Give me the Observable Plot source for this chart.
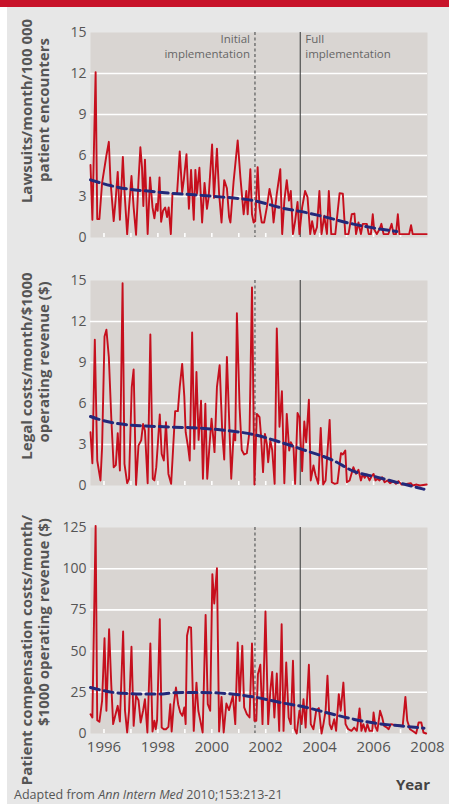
<!DOCTYPE html>
<html>
<head>
<meta charset="utf-8">
<script src="https://cdn.jsdelivr.net/npm/d3@7"></script>
<script src="https://cdn.jsdelivr.net/npm/@observablehq/plot@0.6"></script>
<style>
  html, body { margin: 0; padding: 0; background: #fff; }
  #chart { position: relative; width: 449px; height: 804px; overflow: hidden; font-family: "Open Sans", sans-serif; }
  #redbar { position: absolute; left: 0; top: 0; width: 449px; height: 7px; background: #c8132a; }
  #panel { position: absolute; left: 7px; top: 7px; width: 442px; height: 797px; background: #e7e7e7; }
  #chart svg.plotsvg { position: absolute; left: 0; }
  #caption { position: absolute; left: 14px; top: 786px; font-size: 12.5px; color: #555; white-space: nowrap; }
  #overlay { position: absolute; left: 0; top: 0; pointer-events: none; }
</style>
</head>
<body>
<div id="chart">
  <div id="redbar"></div>
  <div id="panel"></div>
  <div id="caption">Adapted from <i>Ann Intern Med</i> 2010;153:213-21</div>
</div>
<script>
// ---- Data ----
const lawsuitYears = [1995.50,1995.57,1995.69,1995.75,1995.83,1995.93,1996.09,1996.18,1996.24,1996.36,1996.43,1996.51,1996.59,1996.70,1996.76,1996.86,1996.93,1997.02,1997.10,1997.19,1997.28,1997.35,1997.41,1997.46,1997.52,1997.62,1997.71,1997.80,1997.87,1997.94,1997.99,1998.06,1998.12,1998.19,1998.27,1998.34,1998.40,1998.48,1998.54,1998.71,1998.81,1998.90,1998.96,1999.06,1999.15,1999.23,1999.33,1999.39,1999.45,1999.54,1999.64,1999.73,1999.82,1999.88,2000.01,2000.08,2000.19,2000.27,2000.36,2000.46,2000.56,2000.64,2000.69,2000.81,2000.96,2001.06,2001.18,2001.28,2001.33,2001.43,2001.49,2001.55,2001.61,2001.70,2001.77,2001.85,2001.94,2002.04,2002.14,2002.23,2002.29,2002.41,2002.54,2002.61,2002.69,2002.78,2002.86,2002.93,2003.01,2003.09,2003.18,2003.25,2003.35,2003.46,2003.55,2003.65,2003.72,2003.81,2003.90,2003.99,2004.07,2004.17,2004.27,2004.34,2004.43,2004.58,2004.74,2004.86,2004.95,2005.07,2005.19,2005.29,2005.35,2005.44,2005.53,2005.60,2005.75,2005.82,2005.90,2005.97,2006.02,2006.12,2006.22,2006.29,2006.37,2006.55,2006.67,2006.74,2006.83,2006.90,2006.96,2007.32,2007.39,2007.45,2007.97];
const lawsuitValues = [5.3,1.3,12.1,1.35,1.35,4.0,6.0,7.0,4.2,1.2,2.7,4.8,1.3,5.9,3.4,0.25,2.2,4.5,2.2,0.2,4.15,6.6,5.15,2.3,5.7,0.25,4.4,2.2,1.4,2.45,1.95,4.4,1.15,1.95,2.2,1.5,2.2,0.25,3.2,3.2,6.3,3.3,4.2,6.1,2.1,4.95,1.3,4.95,3.2,5.1,1.1,4.0,2.1,2.9,6.8,2.9,6.5,3.2,1.1,4.2,3.6,1.5,1.1,4.15,7.1,4.4,1.7,3.4,1.7,5.0,1.7,1.1,1.2,5.15,2.2,1.1,1.1,2.2,3.55,2.7,1.1,3.2,5.0,0.25,2.7,4.2,2.7,3.4,0.25,1.2,2.6,0.25,2.2,3.4,2.95,0.25,1.2,0.25,0.75,3.4,0.25,1.6,0.25,3.4,0.25,0.25,3.25,3.2,0.25,0.25,1.7,1.75,0.25,1.1,0.25,1.0,1.0,0.25,0.25,1.7,0.6,0.25,0.6,1.0,0.25,0.25,1.0,0.25,0.25,1.7,0.25,0.25,0.9,0.25,0.25];
const lawsuitTrendYears = [1995.50,1996.24,1996.86,1997.72,1998.46,1999.20,2000.06,2001.55,2002.78,2003.28,2004.02,2005.25,2006.86];
const lawsuitTrendValues = [4.22,3.80,3.55,3.38,3.24,3.14,3.01,2.70,2.08,1.91,1.59,0.98,0.44];

const legalYears = [1995.50,1995.57,1995.66,1995.75,1995.87,1995.93,1996.02,1996.09,1996.18,1996.27,1996.36,1996.44,1996.51,1996.59,1996.69,1996.76,1996.86,1996.93,1997.03,1997.10,1997.19,1997.28,1997.38,1997.45,1997.52,1997.62,1997.72,1997.81,1997.87,1997.94,1998.07,1998.14,1998.22,1998.30,1998.39,1998.49,1998.54,1998.64,1998.74,1998.81,1998.90,1998.98,1999.03,1999.12,1999.18,1999.27,1999.35,1999.43,1999.51,1999.60,1999.67,1999.76,1999.83,1999.92,1999.99,2000.10,2000.19,2000.29,2000.39,2000.46,2000.56,2000.72,2000.81,2000.87,2000.93,2001.03,2001.11,2001.20,2001.30,2001.40,2001.49,2001.58,2001.67,2001.77,2001.82,2001.90,2001.97,2002.04,2002.09,2002.17,2002.24,2002.33,2002.41,2002.51,2002.60,2002.69,2002.78,2002.87,2002.93,2003.03,2003.09,2003.18,2003.25,2003.35,2003.43,2003.50,2003.60,2003.67,2003.77,2003.85,2003.95,2004.04,2004.13,2004.22,2004.37,2004.45,2004.56,2004.66,2004.79,2004.86,2004.95,2005.01,2005.11,2005.25,2005.35,2005.44,2005.53,2005.60,2005.67,2005.75,2005.85,2005.92,2006.00,2006.07,2006.14,2006.22,2006.32,2006.41,2006.51,2006.61,2006.74,2006.83,2006.92,2007.04,2007.23,2007.38,2007.45,2007.60,2007.72,2007.97];
const legalValues = [3.9,1.63,10.66,1.83,0.37,2.8,10.9,11.4,9.4,5.0,1.34,1.49,3.83,1.1,14.8,1.59,0.17,0.49,7.2,8.5,0.05,2.93,3.3,4.5,4.0,0.17,11.05,0.49,0.37,1.34,5.2,2.3,1.83,4.63,0.85,0.12,1.83,5.44,5.44,7.2,8.9,6.5,3.9,2.8,1.83,11.2,2.68,8.3,3.34,6.2,0.49,5.98,0.49,3.1,4.88,2.44,7.2,8.8,3.78,1.9,9.4,0.49,3.78,3.3,12.6,5.73,2.6,2.27,2.37,4.02,14.5,0.07,5.24,5.0,3.78,0.98,3.78,3.05,1.7,3.3,2.6,0.12,11.5,4.3,6.9,0.17,5.24,2.56,3.17,2.8,0.12,5.3,5.0,1.05,4.68,3.17,6.27,0.37,1.46,0.73,0.12,4.22,0.07,0.37,4.8,0.24,0.12,0.17,2.37,2.27,2.56,0.24,0.37,1.34,0.85,1.15,0.37,0.85,0.56,0.8,0.37,0.66,0.85,0.37,0.49,0.37,0.61,0.24,0.37,0.17,0.32,0.12,0.32,0.07,0.12,0.17,0.0,0.07,0.0,0.07];
const legalTrendYears = [1995.50,1995.75,1996.24,1996.86,1997.72,1998.59,1999.33,2000.56,2001.55,2002.54,2003.40,2004.51,2005.25,2006.12,2006.98,2007.87];
const legalTrendValues = [5.05,4.88,4.63,4.44,4.34,4.27,4.22,4.02,3.73,3.17,2.61,1.83,1.05,0.61,0.17,-0.27];

const compYears = [1995.50,1995.57,1995.69,1995.75,1995.83,1995.93,1996.02,1996.09,1996.19,1996.27,1996.34,1996.43,1996.51,1996.59,1996.71,1996.78,1996.86,1996.93,1997.02,1997.10,1997.19,1997.28,1997.36,1997.45,1997.52,1997.61,1997.72,1997.80,1997.87,1997.92,1997.97,1998.07,1998.14,1998.22,1998.30,1998.39,1998.46,1998.51,1998.59,1998.67,1998.75,1998.83,1998.91,1998.98,1999.03,1999.08,1999.15,1999.23,1999.33,1999.43,1999.50,1999.57,1999.66,1999.77,1999.85,1999.94,2000.02,2000.09,2000.19,2000.27,2000.36,2000.44,2000.54,2000.64,2000.78,2000.87,2000.96,2001.03,2001.13,2001.20,2001.30,2001.40,2001.49,2001.58,2001.65,2001.71,2001.80,2001.88,2001.99,2002.09,2002.17,2002.24,2002.32,2002.41,2002.50,2002.59,2002.66,2002.76,2002.85,2002.93,2003.01,2003.08,2003.15,2003.25,2003.33,2003.40,2003.48,2003.60,2003.67,2003.77,2003.87,2003.97,2004.07,2004.14,2004.22,2004.29,2004.37,2004.44,2004.54,2004.61,2004.71,2004.78,2004.88,2004.96,2005.06,2005.18,2005.28,2005.38,2005.48,2005.55,2005.62,2005.70,2005.77,2005.85,2005.95,2006.00,2006.07,2006.14,2006.24,2006.32,2006.39,2006.49,2006.56,2006.64,2006.74,2006.86,2007.08,2007.18,2007.25,2007.35,2007.48,2007.58,2007.67,2007.77,2007.85,2007.95];
const compValues = [11.7,9.7,126,8.1,7.1,19.8,57.8,13.8,63.3,29.9,5.7,11.7,16.8,7.3,61.9,13.8,0.6,13.8,52.6,4.65,22.9,20.2,6.7,13.8,20.8,0.6,54.6,1.2,7.7,2.6,8.1,69.4,3.6,2.6,2.6,4.0,17.8,1.2,17.8,27.9,17.8,12.7,10.7,15.8,5.7,59.3,64.7,64.3,1.6,30.9,13.8,8.1,0.6,72.0,17.8,13.8,96.7,78.9,100.3,1.2,22.2,0.6,18.2,14.2,22.9,5.7,55.2,19.8,53.2,15.8,11.7,9.7,54.6,7.7,7.7,36.0,41.7,5.7,74.0,5.7,25.9,37.4,9.7,36.4,1.6,66.3,1.6,43.1,9.7,5.7,44.1,2.6,0.0,13.8,5.7,20.8,3.6,41.7,5.7,2.6,13.8,15.4,0.0,5.7,13.8,35.0,5.7,2.6,8.7,1.6,23.9,13.8,30.9,5.7,2.6,1.6,3.6,1.6,15.2,1.6,5.7,1.2,5.7,1.6,1.6,12.7,4.0,1.6,13.8,9.7,4.65,3.6,2.6,5.7,5.3,5.1,4.65,22.2,7.7,2.6,1.2,0.0,6.7,6.7,0.6,0.0];
const compTrendYears = [1995.50,1995.75,1996.36,1996.86,1997.36,1997.97,1998.59,1999.08,1999.57,2000.32,2001.55,2002.54,2003.40,2004.39,2005.25,2006.12,2006.98,2007.87];
const compTrendValues = [27.9,26.9,24.9,24.3,23.9,23.9,24.7,24.9,24.9,24.5,22.2,18.8,16.2,12.1,8.7,6.1,4.65,3.2];

const yearTicks = [1996,1997,1998,1999,2000,2001,2002,2003,2004,2005,2006,2007];
const yearLabels = [1996,1998,2000,2002,2004,2006,2008];
const xDomain = [1995.5, 2008];
const initialImplementation = 2001.6;
const fullImplementation = 2003.28;

const lawsuitTicks = [0,3,6,9,12,15];
const legalTicks = [0,3,6,9,12,15];
const compTicks = [0,25,50,75,100,125];

const yTitles = [
  ["Lawsuits/month/100 000", "patient encounters"],
  ["Legal costs/month/$1000", "operating revenue ($)"],
  ["Patient compensation costs/month/", "$1000 operating revenue ($)"]
];
const noteInitial = ["Initial", "implementation"];
const noteFull = ["Full", "implementation"];
const xTitle = "Year";

// ---- Styles ----
const RED = "#c60f1d";
const NAVY = "#23297a";
const PLOTBG = "#d9d5d2";
const TEXT = "#555";

function panel({years, values, trendYears, trendValues, ticks, top, height, marginTop, marginBottom, labels, notes}) {
  const data = years.map((x, i) => ({x, y: values[i]}));
  const trend = trendYears.map((x, i) => ({x, y: trendValues[i]}));
  const marks = [
    Plot.frame({fill: PLOTBG, stroke: null}),
    Plot.gridY(ticks.slice(1, -1), {stroke: "white", strokeOpacity: 1, strokeWidth: 1.6}),
    Plot.axisX(yearTicks, {tickSize: -4, stroke: "white", strokeWidth: 1.6, fill: "none", tickFormat: () => ""}),
    Plot.ruleX([initialImplementation], {stroke: "#7a7a7a", strokeWidth: 1.6, strokeDasharray: "3,2.5"}),
    Plot.ruleX([fullImplementation], {stroke: "#444", strokeWidth: 1.1}),
    Plot.line(data, {x: "x", y: "y", stroke: RED, strokeWidth: 1.9, strokeLinejoin: "round"}),
    Plot.line(trend, {x: "x", y: "y", stroke: NAVY, strokeWidth: 3, strokeDasharray: "9,5", curve: "monotone-x"}),
    Plot.axisY(ticks, {tickSize: 0, tickPadding: 4, label: null, fontSize: 14, fill: TEXT})
  ];
  if (labels) {
    marks.push(Plot.axisX(yearLabels, {tickSize: 0, tickPadding: 8, tickFormat: d => String(d), fontSize: 15, fill: TEXT, label: null}));
  }
  if (notes) {
    // one text per line, spaced so the line boxes do not overlap
    noteInitial.forEach((t, j) => {
      marks.push(Plot.text([initialImplementation], {x: d => d, frameAnchor: "top", text: () => t, textAnchor: "end", lineAnchor: "top", dx: -5, dy: 2 + j * 15.8, fontSize: 11.5, fill: "#666"}));
    });
    noteFull.forEach((t, j) => {
      marks.push(Plot.text([fullImplementation], {x: d => d, frameAnchor: "top", text: () => t, textAnchor: "start", lineAnchor: "top", dx: 5, dy: 2 + j * 15.8, fontSize: 11.5, fill: "#666"}));
    });
  }
  const svg = Plot.plot({
    width: 449,
    height,
    marginLeft: 90,
    marginRight: 22,
    marginTop,
    marginBottom,
    style: {background: "transparent", fontFamily: "'Open Sans', sans-serif", fontSize: "14px", color: TEXT, overflow: "visible"},
    x: {domain: xDomain},
    y: {domain: [ticks[0], ticks[ticks.length - 1]]},
    marks
  });
  svg.classList.add("plotsvg");
  svg.style.top = top + "px";
  document.getElementById("chart").appendChild(svg);
}

panel({years: lawsuitYears, values: lawsuitValues, trendYears: lawsuitTrendYears, trendValues: lawsuitTrendValues, ticks: lawsuitTicks, top: 0, height: 250, marginTop: 32, marginBottom: 13, labels: false, notes: true});
panel({years: legalYears, values: legalValues, trendYears: legalTrendYears, trendValues: legalTrendValues, ticks: legalTicks, top: 250, height: 250, marginTop: 30, marginBottom: 15, labels: false, notes: false});
panel({years: compYears, values: compValues, trendYears: compTrendYears, trendValues: compTrendValues, ticks: compTicks, top: 500, height: 270, marginTop: 27, marginBottom: 37, labels: true, notes: false});

// ---- Titles overlay ----
const overlay = d3.select("#chart").append("svg")
  .attr("id", "overlay").attr("width", 449).attr("height", 804);
const titlePos = [
  [[27, 111], [44, 110]],
  [[27, 366], [44, 362]],
  [[27, 650], [44, 622]]
];
yTitles.forEach((lines, i) => {
  lines.forEach((t, j) => {
    const [cx, cy] = titlePos[i][j];
    overlay.append("text")
      .attr("transform", `translate(${cx + 5},${cy}) rotate(-90)`)
      .attr("text-anchor", "middle")
      .attr("font-family", "'Open Sans', sans-serif")
      .attr("font-weight", 700)
      .attr("font-size", 15)
      .attr("fill", TEXT)
      .text(t);
  });
});
overlay.append("text")
  .attr("x", 430).attr("y", 790)
  .attr("text-anchor", "end")
  .attr("font-family", "'Open Sans', sans-serif")
  .attr("font-weight", 700)
  .attr("font-size", 15)
  .attr("fill", "#444")
  .text(xTitle);
</script>
</body>
</html>
